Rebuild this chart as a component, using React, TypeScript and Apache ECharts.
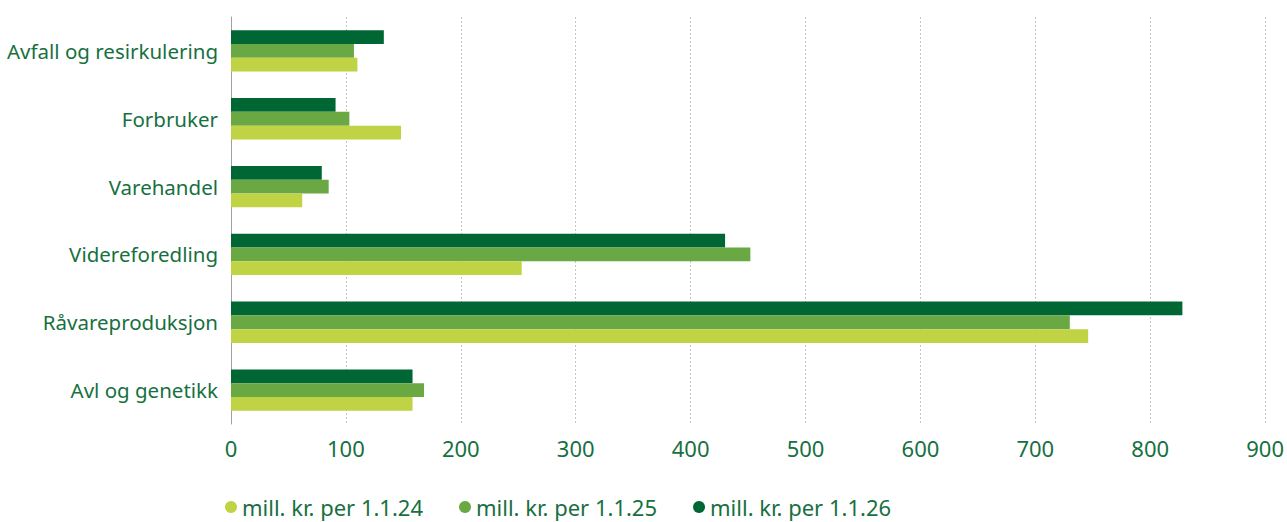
import React, { useEffect, useRef } from "react";
import * as echarts from "echarts";

const categories = [
  "Avl og genetikk",
  "Råvareproduksjon",
  "Videreforedling",
  "Varehandel",
  "Forbruker",
  "Avfall og resirkulering",
];
const seriesNames = ["mill. kr. per 1.1.24", "mill. kr. per 1.1.25", "mill. kr. per 1.1.26"];
const values24 = [158, 746, 253, 62, 148, 110];
const values25 = [168, 730, 452, 85, 103, 107];
const values26 = [158, 828, 430, 79, 91, 133];
const xTicks = [0, 100, 200, 300, 400, 500, 600, 700, 800, 900];

const colors = ["#bfd345", "#6aa844", "#006633"];
const textColor = "#17703f";
const font = "'Noto Sans', sans-serif";

export default function App() {
  const ref = useRef<HTMLDivElement>(null);
  useEffect(() => {
    if (!ref.current) return;
    const chart = echarts.init(ref.current, undefined, { renderer: "svg" });
    const data = [values24, values25, values26];
    // ECharts stacks horizontal bars top-down in series order; reference has 1.1.26 on top
    const order = [2, 1, 0];
    chart.setOption({
      animation: false,
      textStyle: { fontFamily: font },
      grid: { left: 231, right: 21, top: 17, bottom: 98, containLabel: false },
      legend: {
        bottom: -1,
        left: 220,
        icon: "circle",
        itemWidth: 12,
        itemHeight: 12,
        itemGap: 36,
        textStyle: { color: textColor, fontSize: 22, fontFamily: font },
        data: seriesNames,
      },
      xAxis: {
        type: "value",
        min: xTicks[0],
        max: xTicks[xTicks.length - 1],
        interval: 100,
        axisLine: { show: false },
        axisTick: { show: false },
        axisLabel: { color: textColor, fontSize: 22, margin: 13, fontFamily: font },
        splitLine: { show: true, lineStyle: { color: "#c4c4c4", type: [2, 2], width: 1 } },
      },
      yAxis: {
        type: "category",
        data: categories,
        axisLine: { show: true, lineStyle: { color: "#a0a0a0", width: 1 } },
        axisTick: { show: false },
        axisLabel: { color: textColor, fontSize: 20.5, margin: 13, fontFamily: font },
        splitLine: { show: false },
      },
      series: order.map((i) => ({
        name: seriesNames[i],
        type: "bar",
        data: data[i],
        barGap: "0%",
        barCategoryGap: "39%",
        itemStyle: { color: colors[i] },
      })),
    });
    return () => chart.dispose();
  }, []);
  return <div ref={ref} style={{ width: 1287, height: 522, position: "absolute", left: 0, top: 0 }} />;
}
